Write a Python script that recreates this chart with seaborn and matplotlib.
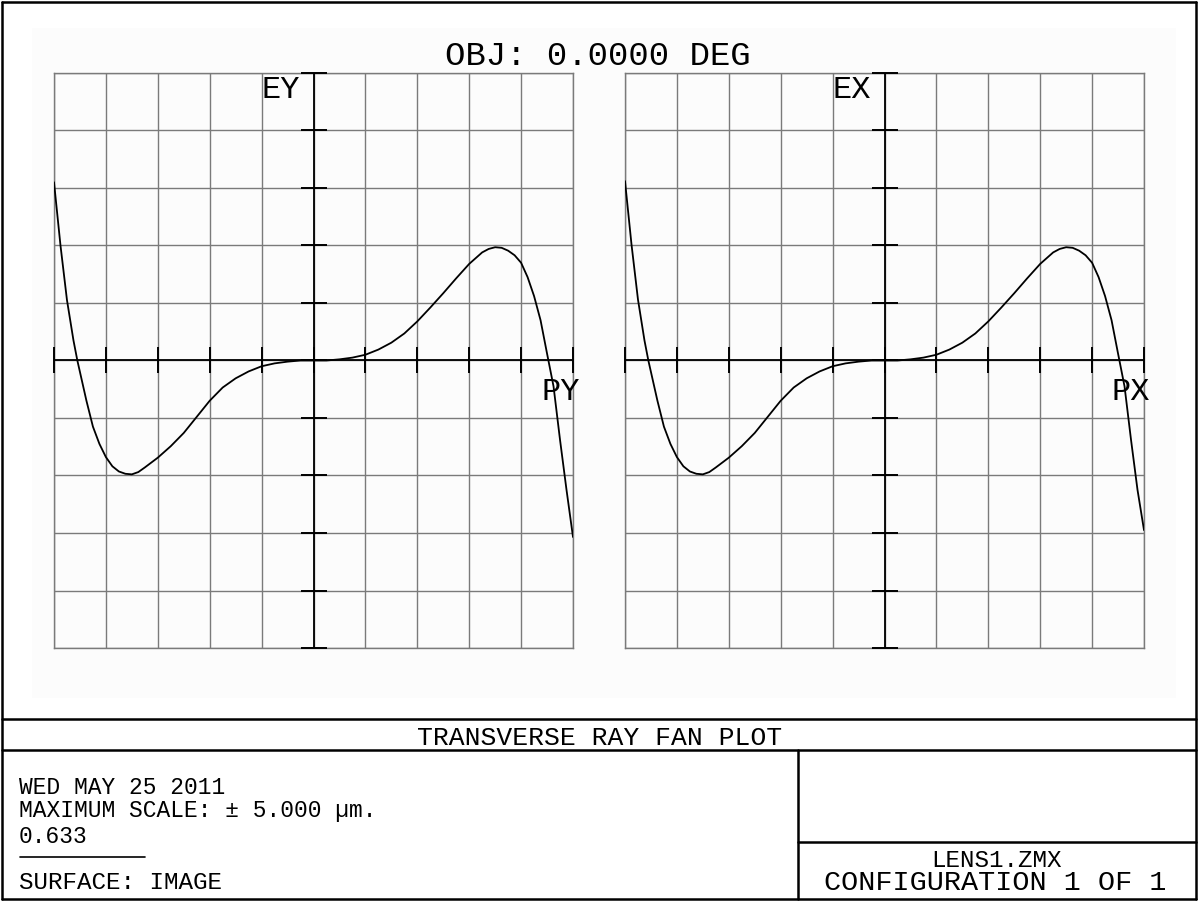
import matplotlib
matplotlib.use('Agg')
import matplotlib.pyplot as plt
import seaborn as sns
import pandas as pd
from matplotlib.lines import Line2D
from matplotlib.patches import Rectangle

# ---- data (relative pupil coordinate vs aberration in µm) ----
pupil = [-1.00, -0.975, -0.95, -0.925, -0.91, -0.90, -0.875, -0.85, -0.825, -0.80,
         -0.775, -0.75, -0.725, -0.70, -0.675, -0.65, -0.60, -0.55, -0.50, -0.45,
         -0.40, -0.35, -0.30, -0.25, -0.20, -0.15, -0.10, -0.05, 0.00,
         0.05, 0.10, 0.15, 0.20, 0.25, 0.30, 0.35, 0.40, 0.45, 0.50,
         0.55, 0.60, 0.65, 0.675, 0.70, 0.725, 0.75, 0.775, 0.80, 0.825,
         0.85, 0.875, 0.90, 0.925, 0.95, 0.975, 1.00]
ey_vals = [3.10, 2.00, 1.05, 0.35, 0.00, -0.20, -0.70, -1.15, -1.45, -1.68,
           -1.84, -1.93, -1.97, -1.98, -1.94, -1.86, -1.69, -1.49, -1.26, -0.98,
           -0.70, -0.47, -0.31, -0.19, -0.10, -0.05, -0.02, 0.00, 0.00,
           0.00, 0.02, 0.05, 0.10, 0.19, 0.31, 0.47, 0.68, 0.92, 1.17,
           1.43, 1.68, 1.88, 1.94, 1.97, 1.96, 1.91, 1.83, 1.70, 1.45,
           1.12, 0.70, 0.12, -0.45, -1.38, -2.25, -3.07]
ex_vals = [3.12, 2.02, 1.06, 0.35, 0.00, -0.20, -0.70, -1.15, -1.45, -1.68,
           -1.84, -1.93, -1.97, -1.98, -1.94, -1.86, -1.69, -1.49, -1.26, -0.98,
           -0.70, -0.47, -0.31, -0.19, -0.10, -0.05, -0.02, 0.00, 0.00,
           0.00, 0.02, 0.05, 0.10, 0.19, 0.31, 0.47, 0.68, 0.92, 1.17,
           1.43, 1.68, 1.88, 1.94, 1.97, 1.96, 1.91, 1.83, 1.70, 1.45,
           1.12, 0.70, 0.12, -0.45, -1.38, -2.25, -2.95]
x_grid = [-1.0, -0.8, -0.6, -0.4, -0.2, 0.0, 0.2, 0.4, 0.6, 0.8, 1.0]
y_grid = [-5, -4, -3, -2, -1, 0, 1, 2, 3, 4, 5]
y_labels = ["EY", "EX"]
x_labels = ["PY", "PX"]

title = "OBJ: 0.0000 DEG"
plot_name = "TRANSVERSE RAY FAN PLOT"
info_lines = ["WED MAY 25 2011", "MAXIMUM SCALE: \u00b1 5.000 \u00b5m.", "0.633"]
surface = "SURFACE: IMAGE"
lens_file = "LENS1.ZMX"
config = "CONFIGURATION 1 OF 1"

W, H = 1198, 901
sns.set_theme(style='white')
plt.rcParams['font.family'] = ['Liberation Mono', 'DejaVu Sans Mono']

fig = plt.figure(figsize=(W / 100, H / 100), dpi=100)
fig.patch.set_facecolor('white')


def fx(x):
    return x / W


def fy(y):
    return 1 - y / H


# faint plot area background
fig.add_artist(Rectangle((fx(32), fy(698)), (1176 - 32) / W, (698 - 28) / H,
                         transform=fig.transFigure, facecolor='#fcfcfc',
                         edgecolor='none', zorder=0))

GRID_C = '#7a7a7a'
panels = [(54, ey_vals, y_labels[0], x_labels[0]), (625, ex_vals, y_labels[1], x_labels[1])]
for left, vals, ylab, xlab in panels:
    ax = fig.add_axes([fx(left), fy(648), 519 / W, 575 / H])
    ax.set_facecolor('none')
    df = pd.DataFrame({'p': pupil, 'e': vals})
    sns.lineplot(data=df, x='p', y='e', ax=ax, color='black', linewidth=1.3,
                 sort=False, estimator=None, zorder=5)
    ax.set_xlim(-1, 1)
    ax.set_ylim(-5, 5)
    ax.set_xticks(x_grid)
    ax.set_yticks(y_grid)
    ax.grid(True, color=GRID_C, linewidth=1.0)
    ax.tick_params(length=0, labelbottom=False, labelleft=False)
    ax.set_xlabel('')
    ax.set_ylabel('')
    for s in ax.spines.values():
        s.set_color(GRID_C)
        s.set_linewidth(1.0)
    ax.axhline(0, color='black', linewidth=1.3, zorder=4)
    ax.axvline(0, color='black', linewidth=1.3, zorder=4)
    ax.plot(x_grid, [0] * len(x_grid), linestyle='none', marker='|',
            markersize=19, markeredgewidth=1.4, color='black', clip_on=False, zorder=4)
    ax.plot([0] * len(y_grid), y_grid, linestyle='none', marker='_',
            markersize=19, markeredgewidth=1.4, color='black', clip_on=False, zorder=4)
    # axis names
    fig.text(fx(left + 246), fy(98), ylab, ha='right', va='baseline', size=23, color='black')
    fig.text(fx(left + 487), fy(400), xlab, ha='left', va='baseline', size=23, color='black')

# title
fig.text(fx(598), fy(65), title, ha='center', va='baseline', size=24.5, color='black')

# frame and footer lines
def hline(y, x0, x1, lw=1.8):
    fig.add_artist(Line2D([fx(x0), fx(x1)], [fy(y), fy(y)], transform=fig.transFigure,
                          color='black', linewidth=lw))


def vline(x, y0, y1, lw=1.8):
    fig.add_artist(Line2D([fx(x), fx(x)], [fy(y0), fy(y1)], transform=fig.transFigure,
                          color='black', linewidth=lw))


hline(2, 2, 1196)
hline(899, 2, 1196)
vline(2, 2, 899)
vline(1196, 2, 899)
hline(719, 2, 1196)
hline(750, 2, 1196)
vline(798, 750, 899)
hline(842, 798, 1196)
hline(857, 20, 145, lw=1.2)

fig.text(fx(600), fy(745), plot_name, ha='center', va='baseline', size=19, color='black')
for txt, yb in zip(info_lines, [794, 817, 843]):
    fig.text(fx(19), fy(yb), txt, ha='left', va='baseline', size=16.5, color='black')
fig.text(fx(19), fy(889), surface, ha='left', va='baseline', size=17.5, color='black')
fig.text(fx(996), fy(867), lens_file, ha='center', va='baseline', size=17.5, color='black')
fig.text(fx(995), fy(890), config, ha='center', va='baseline', size=20.5, color='black')

fig.savefig('out.png', dpi=100, facecolor='white')
